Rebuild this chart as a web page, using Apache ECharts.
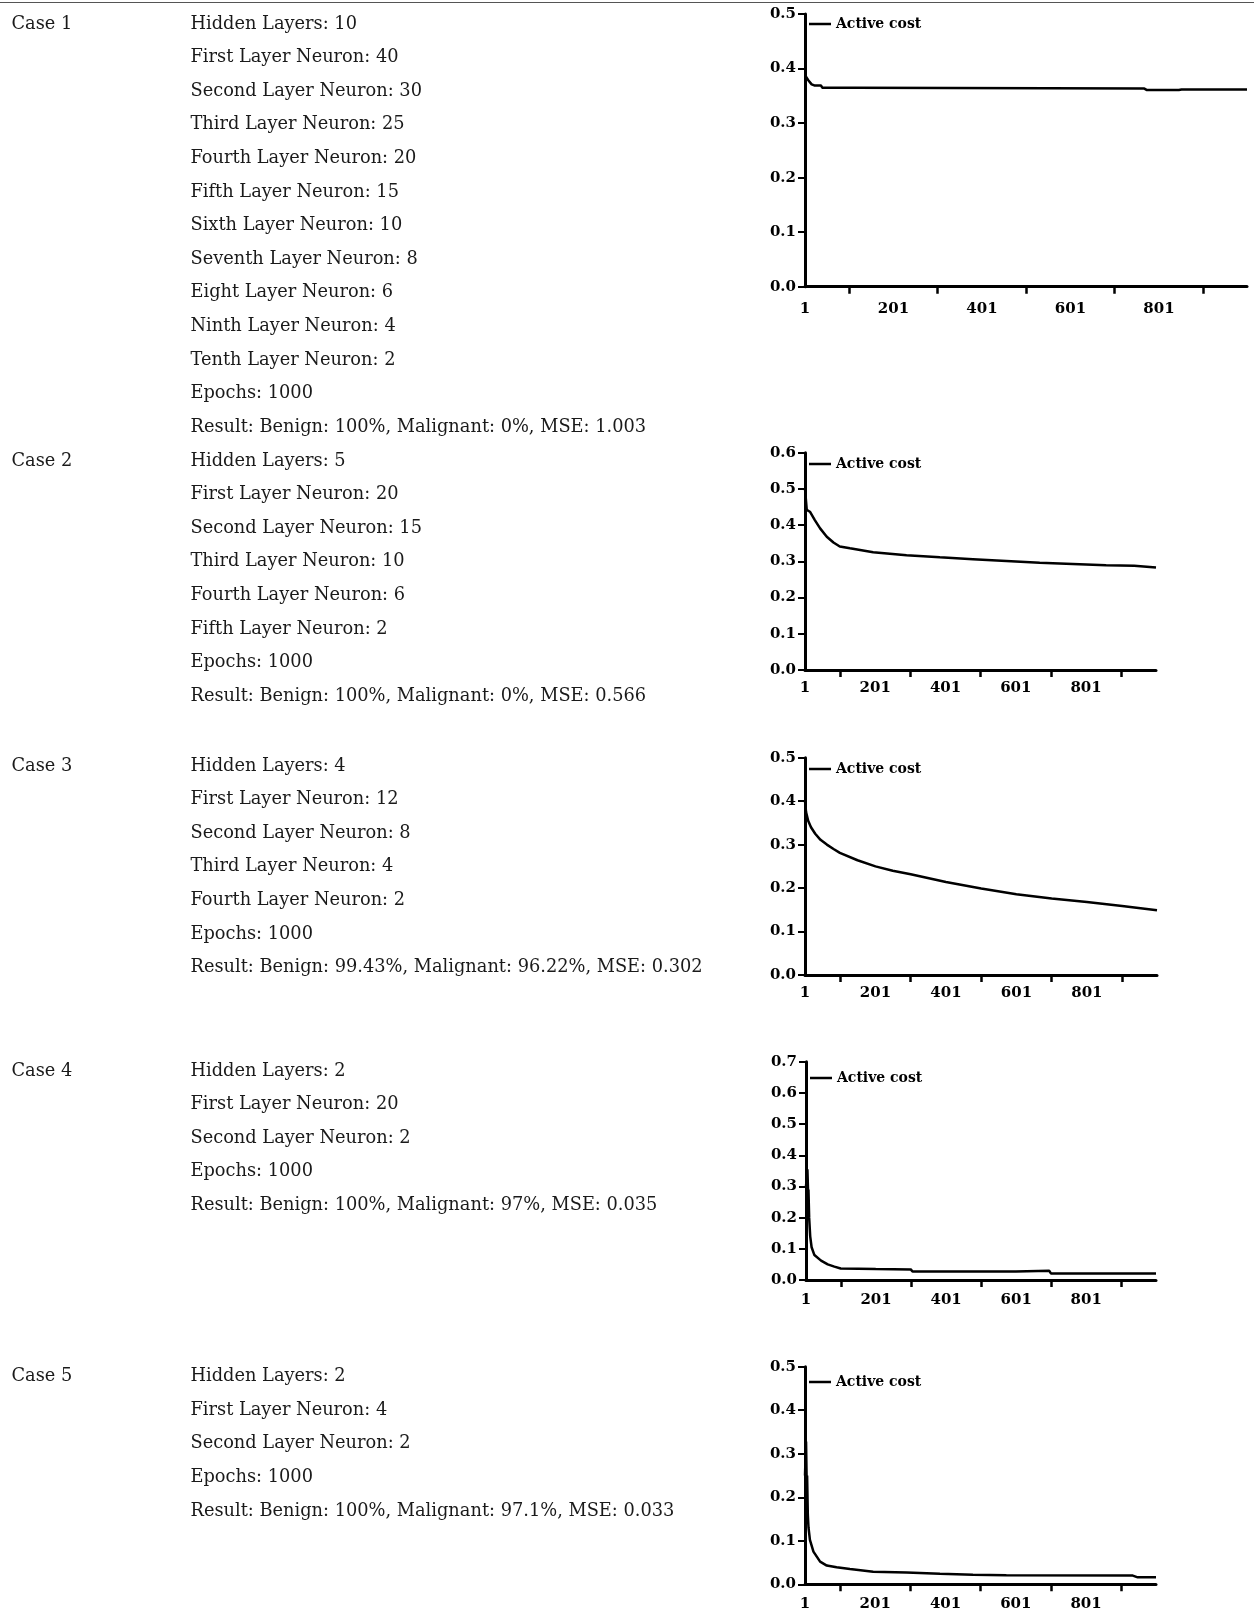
<!DOCTYPE html>
<html>
<head>
<meta charset="utf-8">
<script src="https://cdn.jsdelivr.net/npm/echarts@6/dist/echarts.min.js"></script>
<style>
  html, body { margin: 0; padding: 0; background: #fff; }
  #main { width: 1254px; height: 1621px; }
</style>
</head>
<body>
<div id="main"></div>
<script>
// ---- data ----
const caseLabels = ['Case 1', 'Case 2', 'Case 3', 'Case 4', 'Case 5'];

const case1Text = [
  'Hidden Layers: 10', 'First Layer Neuron: 40', 'Second Layer Neuron: 30',
  'Third Layer Neuron: 25', 'Fourth Layer Neuron: 20', 'Fifth Layer Neuron: 15',
  'Sixth Layer Neuron: 10', 'Seventh Layer Neuron: 8', 'Eight Layer Neuron: 6',
  'Ninth Layer Neuron: 4', 'Tenth Layer Neuron: 2', 'Epochs: 1000',
  'Result: Benign: 100%, Malignant: 0%, MSE: 1.003'
];
const case2Text = [
  'Hidden Layers: 5', 'First Layer Neuron: 20', 'Second Layer Neuron: 15',
  'Third Layer Neuron: 10', 'Fourth Layer Neuron: 6', 'Fifth Layer Neuron: 2',
  'Epochs: 1000', 'Result: Benign: 100%, Malignant: 0%, MSE: 0.566'
];
const case3Text = [
  'Hidden Layers: 4', 'First Layer Neuron: 12', 'Second Layer Neuron: 8',
  'Third Layer Neuron: 4', 'Fourth Layer Neuron: 2', 'Epochs: 1000',
  'Result: Benign: 99.43%, Malignant: 96.22%, MSE: 0.302'
];
const case4Text = [
  'Hidden Layers: 2', 'First Layer Neuron: 20', 'Second Layer Neuron: 2',
  'Epochs: 1000', 'Result: Benign: 100%, Malignant: 97%, MSE: 0.035'
];
const case5Text = [
  'Hidden Layers: 2', 'First Layer Neuron: 4', 'Second Layer Neuron: 2',
  'Epochs: 1000', 'Result: Benign: 100%, Malignant: 97.1%, MSE: 0.033'
];

// cost curves (epoch, cost)
const case1Epochs = [1, 8, 16, 22, 37, 40, 112, 116, 768, 774, 846, 852, 1000];
const case1Cost   = [0.388, 0.379, 0.371, 0.369, 0.369, 0.365, 0.365, 0.3633, 0.3633, 0.3605, 0.3605, 0.3615, 0.3615];

const case2Epochs = [1, 4, 6, 10, 15, 20, 29, 44, 63, 82, 100, 129, 195, 290, 385, 479, 574, 669, 763, 858, 938, 942, 1000];
const case2Cost   = [0.50, 0.50, 0.442, 0.440, 0.437, 0.432, 0.414, 0.391, 0.368, 0.352, 0.341, 0.336, 0.325, 0.317, 0.311, 0.306, 0.301, 0.296, 0.293, 0.289, 0.288, 0.283, 0.283];

const case3Epochs = [1, 4, 10, 18, 30, 45, 63, 82, 100, 150, 201, 250, 301, 401, 501, 601, 701, 801, 901, 1000];
const case3Cost   = [0.40, 0.375, 0.355, 0.34, 0.325, 0.311, 0.30, 0.29, 0.281, 0.264, 0.250, 0.240, 0.232, 0.214, 0.199, 0.186, 0.176, 0.168, 0.159, 0.149];

const case4Epochs = [1, 5, 7, 8, 10, 13, 17, 25, 44, 63, 82, 100, 200, 300, 305, 600, 605, 695, 700, 1000];
const case4Cost   = [0.30, 0.355, 0.28, 0.29, 0.20, 0.14, 0.105, 0.08, 0.062, 0.05, 0.043, 0.037, 0.035, 0.034, 0.027, 0.027, 0.030, 0.030, 0.021, 0.021];

const case5Epochs = [1, 4, 6, 7, 9, 11, 15, 25, 44, 63, 91, 129, 195, 290, 385, 479, 574, 934, 948, 1000];
const case5Cost   = [0.25, 0.328, 0.22, 0.25, 0.16, 0.13, 0.102, 0.075, 0.052, 0.043, 0.039, 0.035, 0.029, 0.027, 0.024, 0.022, 0.021, 0.020, 0.016, 0.016];

const xTickValues  = [101, 301, 501, 701, 901];
const xLabelValues = [1, 201, 401, 601, 801];
const yMaxes = [0.5, 0.6, 0.5, 0.7, 0.5];
const seriesName = 'Active cost';

// ---- layout ----
const caseTexts = [case1Text, case2Text, case3Text, case4Text, case5Text];
const caseEpochs = [case1Epochs, case2Epochs, case3Epochs, case4Epochs, case5Epochs];
const caseCosts = [case1Cost, case2Cost, case3Cost, case4Cost, case5Cost];

const blockTop = [26, 463, 768, 1073, 1378.5];   // centre of first text row
const rowStep = 33.6;
const grids = [
  { left: 805, top: 14,     width: 442, height: 272.7 },
  { left: 805, top: 452.7,  width: 351, height: 217.3 },
  { left: 805, top: 757.7,  width: 352, height: 217.3 },
  { left: 806, top: 1061.7, width: 350, height: 218.3 },
  { left: 805, top: 1366.7, width: 351, height: 217.6 }
];
const legendCenterY = [24, 464, 769, 1078, 1382];
const xLabelMargin = [15, 11, 11, 13, 12];

const textFont = '"DejaVu Serif", serif';
const axisFont = { fontFamily: '"DejaVu Serif", serif', fontWeight: 'bold', fontSize: 15, color: '#000' };

const chart = echarts.init(document.getElementById('main'));

const graphics = [{
  type: 'line',
  shape: { x1: 0, y1: 2.5, x2: 1254, y2: 2.5 },
  style: { stroke: '#555', lineWidth: 1.2 }
}];
caseLabels.forEach((label, i) => {
  graphics.push({
    type: 'text', left: 11.5, top: blockTop[i] - 11,
    style: { text: label, font: '17.8px ' + textFont, fill: '#1a1a1a' }
  });
  caseTexts[i].forEach((line, j) => {
    graphics.push({
      type: 'text', left: 190.5, top: blockTop[i] + j * rowStep - 11,
      style: { text: line, font: '17.8px ' + textFont, fill: '#1a1a1a' }
    });
  });
});

const option = {
  animation: false,
  backgroundColor: '#fff',
  graphic: graphics,
  grid: grids,
  legend: grids.map((g, i) => ({
    data: [seriesName],
    left: g.left + 4,
    top: legendCenterY[i] - 8,
    padding: 0,
    icon: 'rect',
    itemWidth: 22,
    itemHeight: 2.5,
    selectedMode: false,
    textStyle: { fontFamily: '"DejaVu Serif", serif', fontWeight: 'bold', fontSize: 14, color: '#000', lineHeight: 16 }
  })),
  xAxis: grids.map((g, i) => ({
    type: 'value',
    gridIndex: i,
    min: 1,
    max: 1000,
    splitLine: { show: false },
    axisLine: { show: true, onZero: false, lineStyle: { color: '#000', width: 3 } },
    axisTick: { show: true, customValues: xTickValues, length: 7, lineStyle: { color: '#000', width: 2.5 } },
    axisLabel: Object.assign({ customValues: xLabelValues, margin: xLabelMargin[i] }, axisFont)
  })),
  yAxis: grids.map((g, i) => ({
    type: 'value',
    gridIndex: i,
    min: 0,
    max: yMaxes[i],
    interval: 0.1,
    splitLine: { show: false },
    axisLine: { show: true, lineStyle: { color: '#000', width: 3 } },
    axisTick: { show: true, length: 7, lineStyle: { color: '#000', width: 2 } },
    axisLabel: Object.assign({ margin: 9, formatter: v => v.toFixed(1) }, axisFont)
  })),
  series: caseEpochs.map((ep, i) => ({
    name: seriesName,
    type: 'line',
    xAxisIndex: i,
    yAxisIndex: i,
    showSymbol: false,
    data: ep.map((e, k) => [e, caseCosts[i][k]]),
    lineStyle: { color: '#000', width: 2.5 },
    itemStyle: { color: '#000' }
  }))
};

chart.setOption(option);
</script>
</body>
</html>
